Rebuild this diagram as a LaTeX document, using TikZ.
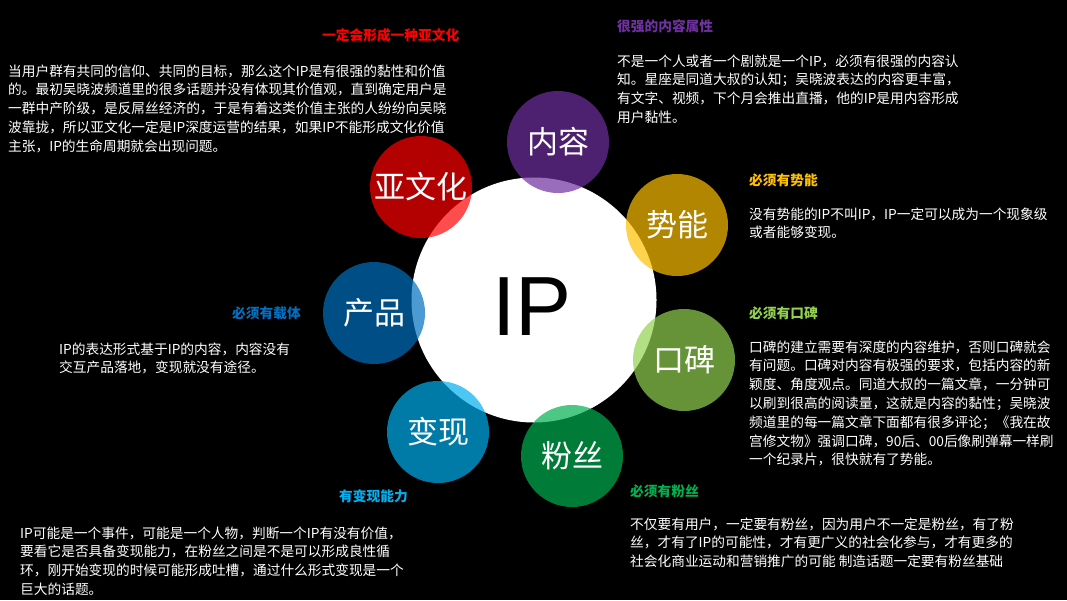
\documentclass[tikz,border=0pt]{standalone}
\usepackage{fontspec}
\setmainfont{Noto Sans CJK SC}
\newfontfamily\ipfont{Liberation Sans}
\definecolor{cred}{RGB}{255,0,0}
\definecolor{cpurple}{RGB}{112,48,160}
\definecolor{cgold}{RGB}{255,192,0}
\definecolor{clgreen}{RGB}{146,208,80}
\definecolor{cgreen}{RGB}{0,176,80}
\definecolor{clblue}{RGB}{0,176,240}
\definecolor{cblue}{RGB}{0,112,192}
\begin{document}
\begin{tikzpicture}[x=1pt,y=-1pt,
 bubble/.style={circle,minimum size=102pt,inner sep=0pt,fill opacity=0.7,text opacity=1,text=white,font=\fontsize{31}{31}\selectfont},
 bodytext/.style={anchor=base west,align=left,inner sep=0pt,text=white,font=\fontsize{13.7}{18.8}\selectfont},
 headtext/.style={anchor=base west,inner sep=0pt,font=\bfseries\fontsize{13.7}{16}\selectfont}]
\fill[black] (0,0) rectangle (1067,600);
\useasboundingbox (0,0) rectangle (1067,600);
% central circle
\node[circle,fill=white,minimum size=245pt,inner sep=0pt] (ip) at (534,300) {};
\node[font=\ipfont\fontsize{84}{84}\selectfont,text=black,inner sep=0pt] (iptext) at (532,307) {IP};
% bubbles
\node[bubble,fill=cpurple] (neirong) at (558,142) {内容};
\node[bubble,fill=cgold] (shineng) at (677,225) {势能};
\node[bubble,fill=clgreen] (koubei) at (684,360) {口碑};
\node[bubble,fill=cgreen] (fensi) at (572,456) {粉丝};
\node[bubble,fill=clblue] (bianxian) at (438,432) {变现};
\node[bubble,fill=cblue] (chanpin) at (374,313) {产品};
\node[bubble,fill=cred] (yawenhua) at (421,187) {亚文化};
% headings
\node[headtext,text=cred] (h1) at (322,40) {一定会形成一种亚文化};
\node[headtext,text=cpurple] (h2) at (617,31) {很强的内容属性};
\node[headtext,text=cgold] (h3) at (749,185) {必须有势能};
\node[headtext,text=clgreen] (h4) at (749,318) {必须有口碑};
\node[headtext,text=cgreen] (h5) at (630,496) {必须有粉丝};
\node[headtext,text=clblue] (h6) at (339,501) {有变现能力};
\node[headtext,text=cblue] (h7) at (232,318) {必须有载体};
% bodies (anchor = baseline of the last line)
\node[bodytext] (b1) at (8,151.2) {当用户群有共同的信仰、共同的目标，那么这个IP是有很强的黏性和价值\\的。最初吴晓波频道里的很多话题并没有体现其价值观，直到确定用户是\\一群中产阶级，是反屌丝经济的，于是有着这类价值主张的人纷纷向吴晓\\波靠拢，所以亚文化一定是IP深度运营的结果，如果IP不能形成文化价值\\主张，IP的生命周期就会出现问题。};
\node[bodytext] (b2) at (617,122.4) {不是一个人或者一个剧就是一个IP，必须有很强的内容认\\知。星座是同道大叔的认知；吴晓波表达的内容更丰富，\\有文字、视频，下个月会推出直播，他的IP是用内容形成\\用户黏性。};
\node[bodytext] (b3) at (749,237.8) {没有势能的IP不叫IP，IP一定可以成为一个现象级\\或者能够变现。};
\node[bodytext] (b4) at (749,464.8) {口碑的建立需要有深度的内容维护，否则口碑就会\\有问题。口碑对内容有极强的要求，包括内容的新\\颖度、角度观点。同道大叔的一篇文章，一分钟可\\以刷到很高的阅读量，这就是内容的黏性；吴晓波\\频道里的每一篇文章下面都有很多评论；《我在故\\宫修文物》强调口碑，90后、00后像刷弹幕一样刷\\一个纪录片，很快就有了势能。};
\node[bodytext] (b5) at (630,566.6) {不仅要有用户，一定要有粉丝，因为用户不一定是粉丝，有了粉\\丝，才有了IP的可能性，才有更广义的社会化参与，才有更多的\\社会化商业运动和营销推广的可能 制造话题一定要有粉丝基础};
\node[bodytext] (b6) at (20,594.4) {IP可能是一个事件，可能是一个人物，判断一个IP有没有价值，\\要看它是否具备变现能力，在粉丝之间是不是可以形成良性循\\环，刚开始变现的时候可能形成吐槽，通过什么形式变现是一个\\巨大的话题。};
\node[bodytext] (b7) at (59,372.8) {IP的表达形式基于IP的内容，内容没有\\交互产品落地，变现就没有途径。};
\end{tikzpicture}
\end{document}
